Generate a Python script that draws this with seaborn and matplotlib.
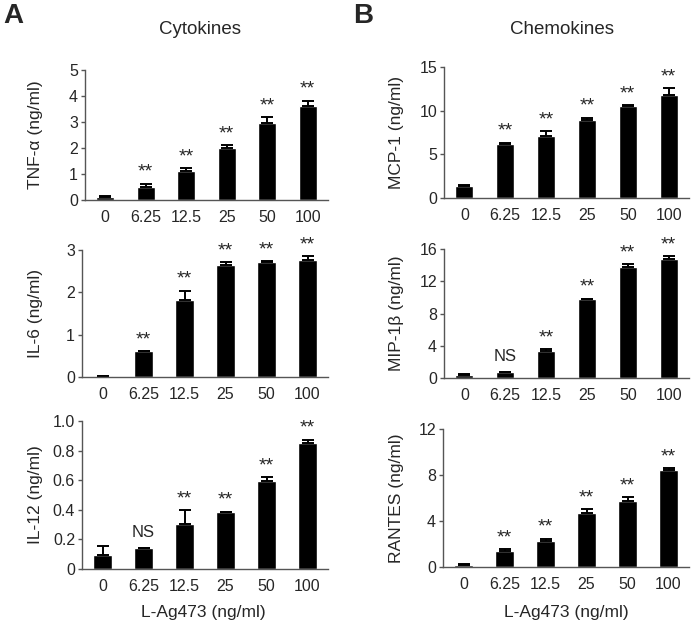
import pandas as pd
import seaborn as sns
import matplotlib.pyplot as plt

doses = ["0", "6.25", "12.5", "25", "50", "100"]

tnf = [0.13, 0.51, 1.12, 2.01, 2.95, 3.62]
tnf_err = [0.03, 0.12, 0.10, 0.11, 0.25, 0.20]
il6 = [0.02, 0.61, 1.82, 2.64, 2.72, 2.76]
il6_err = [0.0, 0.0, 0.22, 0.08, 0.01, 0.10]
il12 = [0.094, 0.139, 0.305, 0.382, 0.593, 0.852]
il12_err = [0.063, 0.0, 0.093, 0.006, 0.029, 0.022]

mcp1 = [1.34, 6.22, 7.06, 8.97, 10.53, 11.8]
mcp1_err = [0.11, 0.12, 0.57, 0.23, 0.07, 0.8]
mip1b = [0.40, 0.70, 3.40, 9.77, 13.76, 14.75]
mip1b_err = [0.05, 0.05, 0.17, 0.08, 0.34, 0.35]
rantes = [0.20, 1.36, 2.26, 4.72, 5.77, 8.40]
rantes_err = [0.09, 0.21, 0.20, 0.32, 0.29, 0.20]

sig_tnf = ["", "**", "**", "**", "**", "**"]
sig_il6 = ["", "**", "**", "**", "**", "**"]
sig_il12 = ["", "NS", "**", "**", "**", "**"]
sig_mcp1 = ["", "**", "**", "**", "**", "**"]
sig_mip1b = ["", "NS", "**", "**", "**", "**"]
sig_rantes = ["", "**", "**", "**", "**", "**"]

sns.set_style("white")
plt.rcParams["font.family"] = ["Liberation Sans", "DejaVu Sans"]

fig = plt.figure(figsize=(6.94, 6.25), dpi=100)

W, H = 694, 625


def box(left, right, bottom, top):
    return [left / W, 1 - bottom / H, (right - left) / W, (bottom - top) / H]


# (axes box, values, errors, marks, y label, y ticks, tick labels, x of y label in px)
panels = [
    (box(85, 328, 200, 70), tnf, tnf_err, sig_tnf, "TNF-\u03b1 (ng/ml)", [0, 1, 2, 3, 4, 5], ["0", "1", "2", "3", "4", "5"], 43),
    (box(82, 328, 377, 250), il6, il6_err, sig_il6, "IL-6 (ng/ml)", [0, 1, 2, 3], ["0", "1", "2", "3"], 43),
    (box(82, 328, 569, 421), il12, il12_err, sig_il12, "IL-12 (ng/ml)", [0, 0.2, 0.4, 0.6, 0.8, 1.0], ["0", "0.2", "0.4", "0.6", "0.8", "1.0"], 43),
    (box(444, 689, 198, 67), mcp1, mcp1_err, sig_mcp1, "MCP-1 (ng/ml)", [0, 5, 10, 15], ["0", "5", "10", "15"], 404),
    (box(444, 689, 378, 249), mip1b, mip1b_err, sig_mip1b, "MIP-1\u03b2 (ng/ml)", [0, 4, 8, 12, 16], ["0", "4", "8", "12", "16"], 404),
    (box(443, 689, 567, 429), rantes, rantes_err, sig_rantes, "RANTES (ng/ml)", [0, 4, 8, 12], ["0", "4", "8", "12"], 404),
]

spine_col = "#555555"

for rect, vals, errs, sigs, ylab, yticks, ytl, lab_x in panels:
    ax = fig.add_axes(rect)
    df = pd.DataFrame({"dose": doses, "value": vals})
    sns.barplot(data=df, x="dose", y="value", color="black", width=0.44,
                saturation=1, errorbar=None, ax=ax)
    x = list(range(len(doses)))
    ax.errorbar(x, vals, yerr=[[0] * len(errs), errs], fmt="none",
                ecolor="black", elinewidth=1.4, capsize=4.5, capthick=1.4)
    top = yticks[-1]
    for xi, v, e, s in zip(x, vals, errs, sigs):
        if s:
            ax.annotate(s, (xi, v + e), xytext=(0, 2 if s == "**" else 6),
                        textcoords="offset points", ha="center", va="bottom",
                        fontsize=14 if s == "**" else 12)
    ax.set_xlim(-0.5, 5.5)
    ax.set_ylim(0, top)
    ax.set_yticks(yticks)
    ax.set_yticklabels(ytl)
    ax.set_xlabel("")
    ax.set_ylabel(ylab, fontsize=12.5)
    ax.yaxis.set_label_coords((lab_x - rect[0] * W) / (rect[2] * W), 0.5)
    ax.tick_params(axis="y", direction="out", length=3, width=1,
                   color=spine_col, labelsize=11.5, pad=2, left=True)
    ax.tick_params(axis="x", length=0, labelsize=11.5, pad=7)
    sns.despine(ax=ax)
    for sp in ["left", "bottom"]:
        ax.spines[sp].set_color(spine_col)
        ax.spines[sp].set_linewidth(1)

fig.text(200 / W, 1 - 30 / H, "Cytokines", ha="center", va="center", fontsize=13.5)
fig.text(562 / W, 1 - 30 / H, "Chemokines", ha="center", va="center", fontsize=13.5)
fig.text(3 / W, 1 - 16 / H, "A", ha="left", va="center", fontsize=20, fontweight="bold")
fig.text(353 / W, 1 - 16 / H, "B", ha="left", va="center", fontsize=20, fontweight="bold")
fig.text(203 / W, 1 - 612 / H, "L-Ag473 (ng/ml)", ha="center", va="center", fontsize=12.5)
fig.text(566 / W, 1 - 612 / H, "L-Ag473 (ng/ml)", ha="center", va="center", fontsize=12.5)

fig.savefig("out.png", dpi=100)
